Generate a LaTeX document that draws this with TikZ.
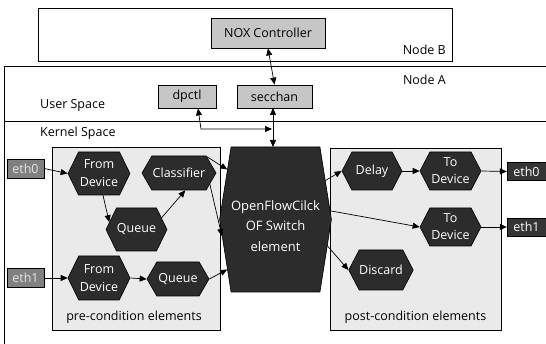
\documentclass[tikz,border=0pt]{standalone}
\usepackage{fontspec}
\setmainfont{Open Sans}
\usetikzlibrary{shapes.symbols,arrows.meta}
\definecolor{hexfill}{HTML}{2C2C2C}
\definecolor{boxfill}{HTML}{C6C6C6}
\definecolor{ethl}{HTML}{808080}
\definecolor{ethr}{HTML}{353535}
\definecolor{areafill}{HTML}{EAEAEA}
\tikzset{
  hexnode/.style={signal, signal to=east and west, draw=black, fill=hexfill,
    text=white, align=center, inner sep=0pt, line width=0.6pt,
    font=\fontsize{12.5}{18}\selectfont},
  lightbox/.style={draw=black, fill=boxfill, line width=0.8pt, inner sep=0pt,
    font=\fontsize{12.5}{14}\selectfont},
  ethleft/.style={draw=black, fill=ethl, text=white!90!black, inner sep=0pt,
    minimum width=37pt, minimum height=19pt, font=\fontsize{12.5}{14}\selectfont},
  ethright/.style={draw=black, fill=ethr, text=white, inner sep=0pt,
    minimum width=39pt, minimum height=18pt, font=\fontsize{12.5}{14}\selectfont},
  area/.style={draw=black, fill=areafill, line width=0.8pt},
  lbl/.style={font=\fontsize{12.5}{14}\selectfont, inner sep=0pt},
  arr/.style={-{Triangle[length=7pt,width=6pt]}, line width=0.7pt},
  dbl/.style={{Triangle[length=7pt,width=6pt]}-{Triangle[length=7pt,width=6pt]}, line width=0.7pt}
}
\begin{document}
\begin{tikzpicture}[x=1pt,y=-1pt]
\useasboundingbox (0,0) rectangle (546,344);
\clip (0,0) rectangle (546,344);
\fill[white] (0,0) rectangle (546,344);
% Node B
\draw[line width=0.9pt] (38,8) rectangle (452,61);
\node[lbl, anchor=east] (nodeb) at (446,50) {Node B};
\node[lightbox, minimum width=114pt, minimum height=30pt] (nox) at (268,33) {NOX Controller};
% Node A
\draw[line width=0.9pt] (550,66) -- (4,66) -- (4,350);
\node[lbl, anchor=east] (nodea) at (446,80) {Node A};
\node[lbl, anchor=west] (user) at (40,105) {User Space};
\draw[line width=0.9pt] (4,121) -- (550,121);
\node[lbl, anchor=west] (kernel) at (40,133) {Kernel Space};
\node[lightbox, minimum width=58pt, minimum height=23pt] (dpctl) at (187,96.5) {dpctl};
\node[lightbox, minimum width=75pt, minimum height=23pt] (secchan) at (274.5,96.5) {secchan};
% areas
\draw[area] (52,147) rectangle (220,330);
\draw[area] (330,148) rectangle (501,330);
\node[lbl] (pre) at (134,317) {pre-condition elements};
\node[lbl] (post) at (415.5,317) {post-condition elements};
% eth boxes
\node[ethleft] (eth0l) at (25.5,168.5) {eth0};
\node[ethleft] (eth1l) at (25.5,278) {eth1};
\node[ethright] (eth0r) at (526.5,171.5) {eth0};
\node[ethright] (eth1r) at (526.5,227) {eth1};
% hexagons
\node[hexnode, minimum width=62pt, minimum height=43pt, signal pointer angle=128] (fd1) at (99,173.5) {From\\Device};
\node[hexnode, minimum width=74pt, minimum height=34pt, signal pointer angle=120] (cls) at (179,173) {Classifier};
\node[hexnode, minimum width=61pt, minimum height=43pt, signal pointer angle=128] (q1) at (136.5,229.5) {Queue};
\node[hexnode, minimum width=62pt, minimum height=44pt, signal pointer angle=128] (fd2) at (99,278) {From\\Device};
\node[hexnode, minimum width=62pt, minimum height=34pt, signal pointer angle=120] (q2) at (178,279) {Queue};
\node[hexnode, minimum width=93pt, minimum height=145pt, signal pointer angle=162,
  font=\fontsize{13}{20.5}\selectfont, text depth=0pt] (ofc) at (275.5,219.5) {\\[2pt]OpenFlowCilck\\OF Switch\\element};
\node[hexnode, minimum width=60pt, minimum height=38pt, signal pointer angle=125] (delay) at (372,171) {Delay};
\node[hexnode, minimum width=61pt, minimum height=38pt, signal pointer angle=125, font=\fontsize{12.5}{17}\selectfont] (td1) at (450.5,171) {To\\Device};
\node[hexnode, minimum width=61pt, minimum height=38pt, signal pointer angle=125, font=\fontsize{12.5}{17}\selectfont] (td2) at (450.5,227) {To\\Device};
\node[hexnode, minimum width=62pt, minimum height=40pt, signal pointer angle=125] (disc) at (381,270) {Discard};
% connectors top
\draw[dbl] (nox.south) -- (secchan.north);
\coordinate (vtop) at (273,108);
\coordinate (vbot) at (273,147);
\draw[dbl] (vtop) -- (vbot);
\coordinate (bend) at (201,129);
\coordinate (join) at (272,129);
\draw[dbl] ([xshift=11pt]dpctl.south) -- (bend) -- (join);
% kernel connectors
\draw[arr] (eth0l.east) -- (fd1.west);
\draw[arr] (eth1l.east) -- (fd2.west);
\draw[arr] ([xshift=4pt]fd1.south) -- (q1.165);
\draw[arr] (q1.25) -- (cls.-70);
\draw[arr] (fd2.east) -- (q2.west);
\draw[arr] (cls.30) -- (ofc.134);
\draw[arr] (cls.-20) -- (ofc.197);
\draw[arr] (q2.east) -- (ofc.226);
\draw[arr] (ofc.38) -- (delay.west);
\draw[arr] (ofc.9) -- (td2.west);
\draw[arr] (ofc.-27) -- (disc.west);
\draw[arr] (delay.east) -- (td1.west);
\draw[arr] (td1.east) -- (eth0r.west);
\draw[arr] (td2.east) -- (eth1r.west);
\end{tikzpicture}
\end{document}
